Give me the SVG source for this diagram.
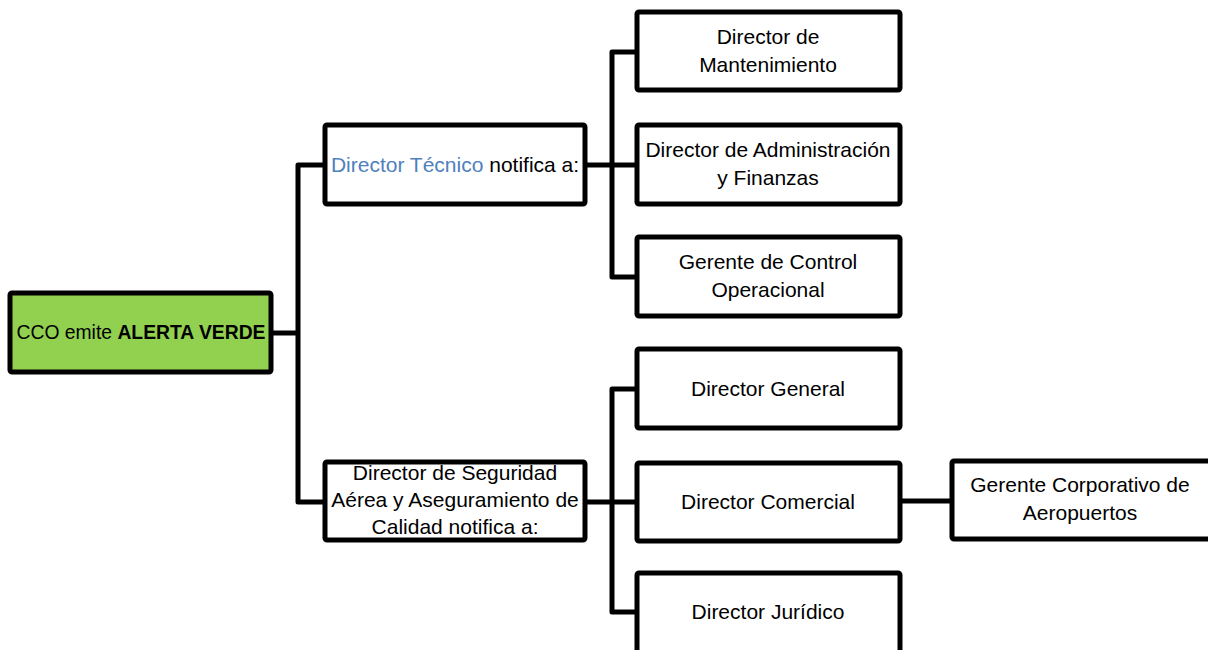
<svg xmlns="http://www.w3.org/2000/svg" width="1208" height="650" viewBox="0 0 1208 650">
<style>
.box{fill:#fff;stroke:#000;stroke-width:5;stroke-linejoin:round}
.root{fill:#92D050;stroke:#000;stroke-width:5;stroke-linejoin:round}
.ln{fill:none;stroke:#000;stroke-width:5;stroke-linejoin:round}
text{font-family:"Liberation Sans",Arial,sans-serif;font-size:21px;fill:#000;text-anchor:middle}
.blue{fill:#4F81BD}
.b{font-weight:bold}
</style>
<rect width="1208" height="650" fill="#fff"/>
<g id="connectors">
<polyline class="ln" points="273,333 298,333"/>
<polyline class="ln" points="325,165 298,165 298,502 325,502"/>
<polyline class="ln" points="585,165 637,165"/>
<polyline class="ln" points="637,52 612,52 612,277 637,277"/>
<polyline class="ln" points="585,502 637,502"/>
<polyline class="ln" points="637,389 612,389 612,612 637,612"/>
<polyline class="ln" points="900,501 952,501"/>
</g>
<g id="n-root">
<rect class="root" x="10" y="293" width="261" height="79" rx="2"/>
<text x="141" y="339" textLength="249" lengthAdjust="spacingAndGlyphs">CCO emite <tspan class="b">ALERTA VERDE</tspan></text>
</g>
<g id="n-tecnico">
<rect class="box" x="325" y="125" width="260" height="79" rx="2"/>
<text x="455" y="172"><tspan class="blue">Director Técnico</tspan> notifica a:</text>
</g>
<g id="n-mant">
<rect class="box" x="637" y="12" width="263" height="78" rx="2"/>
<text x="768" y="44">Director de</text>
<text x="768" y="72">Mantenimiento</text>
</g>
<g id="n-admin">
<rect class="box" x="637" y="125" width="263" height="79" rx="2"/>
<text x="768" y="157">Director de Administración</text>
<text x="768" y="185">y Finanzas</text>
</g>
<g id="n-control">
<rect class="box" x="637" y="237" width="263" height="79" rx="2"/>
<text x="768" y="269">Gerente de Control</text>
<text x="768" y="297">Operacional</text>
</g>
<g id="n-seguridad">
<rect class="box" x="325" y="462" width="260" height="78" rx="2"/>
<text x="455" y="480">Director de Seguridad</text>
<text x="455" y="507">Aérea y Aseguramiento de</text>
<text x="455" y="534">Calidad notifica a:</text>
</g>
<g id="n-general">
<rect class="box" x="637" y="349" width="263" height="79" rx="2"/>
<text x="768" y="396">Director General</text>
</g>
<g id="n-comercial">
<rect class="box" x="637" y="463" width="263" height="78" rx="2"/>
<text x="768" y="509">Director Comercial</text>
</g>
<g id="n-juridico">
<rect class="box" x="637" y="573" width="263" height="82" rx="2"/>
<text x="768" y="619">Director Jurídico</text>
</g>
<g id="n-gerente-corp">
<rect class="box" x="952" y="461" width="270" height="78" rx="2"/>
<text x="1080" y="492">Gerente Corporativo de</text>
<text x="1080" y="520">Aeropuertos</text>
</g>
</svg>
